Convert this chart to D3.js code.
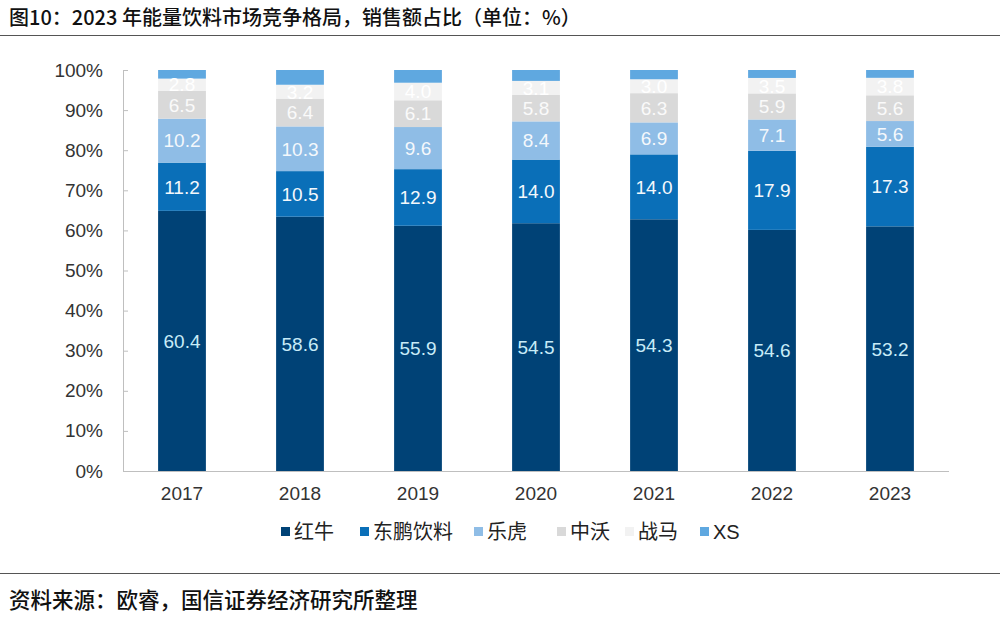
<!DOCTYPE html>
<html>
<head>
<meta charset="utf-8">
<style>
  body { margin: 0; background: #fff; }
  svg text { font-family: "Liberation Sans", Arial, sans-serif; }
  .cjk { font-family: "Noto Sans CJK SC", sans-serif; }
</style>
</head>
<body>
<svg id="chart" width="1000" height="620"></svg>
<script src="https://d3js.org/d3.v7.min.js"></script>
<script>

var years = ['2017', '2018', '2019', '2020', '2021', '2022', '2023'];
var brands = ['红牛', '东鹏饮料', '乐虎', '中沃', '战马', 'XS'];
// shares as printed in the bars; XS has no label
var hongniu  = [60.4, 58.6, 55.9, 54.5, 54.3, 54.6, 53.2];
var dongpeng = [11.2, 10.5, 12.9, 14.0, 14.0, 17.9, 17.3];
var lehu     = [10.2, 10.3, 9.6, 8.4, 6.9, 7.1, 5.6];
var zhongwo  = [6.5, 6.4, 6.1, 5.8, 6.3, 5.9, 5.6];
var zhanma   = [2.8, 3.2, 4.0, 3.1, 3.0, 3.5, 3.8];
var xs       = [2.0, 3.4, 2.9, 2.4, 2.0, 1.8, 1.7];
var yTicks = [0, 0.1, 0.2, 0.3, 0.4, 0.5, 0.6, 0.7, 0.8, 0.9, 1];

var colors = ['#004276', '#0a6fb8', '#8fbde6', '#d9d9d9', '#f2f2f2', '#5fa8e0'];
var labelColors = ['#c8ecf8', '#f4f8fc', '#f4f8fc', '#fafafa', '#ffffff', null];

var series = [hongniu, dongpeng, lehu, zhongwo, zhanma, xs];
var rows = years.map(function(y, i) {
  var r = {year: y};
  brands.forEach(function(b, j) { r[b] = series[j][i]; });
  return r;
});

var svg = d3.select('#chart');

// title + rules
svg.append('text')
    .attr('class', 'cjk')
    .attr('x', 9).attr('y', 25)
    .attr('font-size', 20).attr('font-weight', 500)
    .attr('fill', '#111')
    .text('图10：2023 年能量饮料市场竞争格局，销售额占比（单位：%）');
svg.append('line')
    .attr('x1', 0).attr('x2', 1000).attr('y1', 35.5).attr('y2', 35.5)
    .attr('stroke', '#555').attr('stroke-width', 1);
svg.append('line')
    .attr('x1', 0).attr('x2', 1000).attr('y1', 573.5).attr('y2', 573.5)
    .attr('stroke', '#555').attr('stroke-width', 1);
svg.append('text')
    .attr('class', 'cjk')
    .attr('x', 9).attr('y', 608)
    .attr('font-size', 21.5).attr('font-weight', 500)
    .attr('fill', '#111')
    .text('资料来源：欧睿，国信证券经济研究所整理');

var x = d3.scaleBand()
    .domain(years)
    .range([123, 949])
    .paddingInner(0.595)
    .paddingOuter(0.2975);

var y = d3.scaleLinear()
    .domain([0, 1])
    .range([471, 70]);

var stack = d3.stack()
    .keys(brands)
    .offset(d3.stackOffsetExpand);
var layers = stack(rows);

var g = svg.append('g');

var layer = g.selectAll('g.layer')
  .data(layers)
  .enter().append('g')
    .attr('class', 'layer')
    .attr('fill', function(d, i) { return colors[i]; });

layer.selectAll('rect')
  .data(function(d) { return d; })
  .enter().append('rect')
    .attr('x', function(d) { return x(d.data.year); })
    .attr('width', x.bandwidth())
    .attr('y', function(d) { return y(d[1]); })
    .attr('height', function(d) { return y(d[0]) - y(d[1]); });

// value labels (not for XS)
layers.forEach(function(l, i) {
  if (!labelColors[i]) return;
  g.selectAll('text.v' + i)
    .data(l)
    .enter().append('text')
      .attr('class', 'v' + i)
      .attr('x', function(d) { return x(d.data.year) + x.bandwidth() / 2; })
      .attr('y', function(d) { return (y(d[0]) + y(d[1])) / 2; })
      .attr('dy', '0.36em')
      .attr('text-anchor', 'middle')
      .attr('font-size', 19)
      .attr('fill', labelColors[i])
      .text(function(d) { return d.data[l.key].toFixed(1); });
});

// axes
var yAxis = g.append('g')
    .attr('transform', 'translate(123,0)')
    .call(d3.axisLeft(y).tickValues(yTicks).tickSize(-5).tickPadding(20)
      .tickFormat(d3.format('.0%')));
yAxis.selectAll('line').attr('stroke', '#bfbfbf');
yAxis.select('.domain').attr('stroke', '#bfbfbf');
yAxis.selectAll('text')
    .attr('font-size', 19).attr('fill', '#333')
    .attr('font-family', '"Liberation Sans", Arial, sans-serif');

var xAxis = g.append('g')
    .attr('transform', 'translate(0,471)')
    .call(d3.axisBottom(x).tickSize(0).tickPadding(16));
xAxis.select('.domain').attr('stroke', '#bfbfbf').attr('d', 'M123,0.5H949');
xAxis.selectAll('text')
    .attr('font-size', 19).attr('fill', '#333')
    .attr('font-family', '"Liberation Sans", Arial, sans-serif');

// legend
var legendX = [281, 360, 474, 557, 625, 700];
var legend = svg.append('g');
brands.forEach(function(b, i) {
  legend.append('rect')
      .attr('x', legendX[i]).attr('y', 527)
      .attr('width', 9).attr('height', 9)
      .attr('fill', colors[i]);
  legend.append('text')
      .attr('class', i === 5 ? '' : 'cjk')
      .attr('x', legendX[i] + 13).attr('y', 532)
      .attr('dy', '0.36em')
      .attr('font-size', 20)
      .attr('fill', '#222')
      .text(b);
});

</script>
</body>
</html>
